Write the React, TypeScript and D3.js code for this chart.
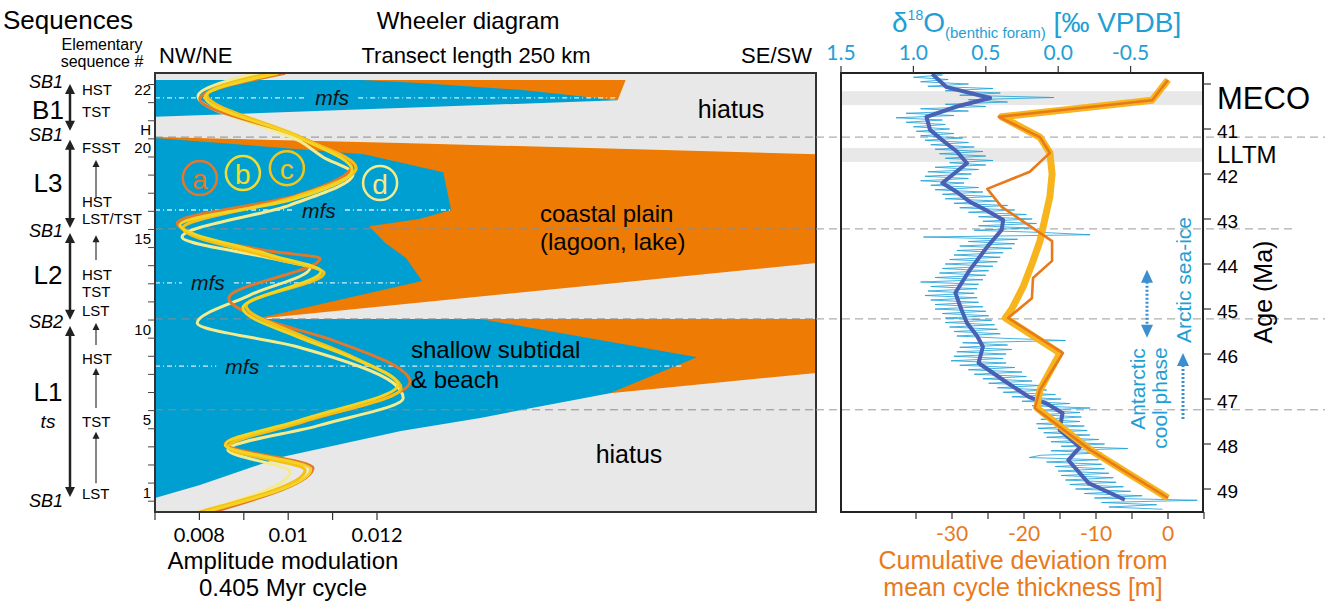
import React from "react";
import * as d3 from "d3";

// ---------- axis ticks ----------
const ageTicks = [40, 41, 42, 43, 44, 45, 46, 47, 48, 49];
const ageTickLabels = [41, 42, 43, 44, 45, 46, 47, 48, 49];
const isoTicks = [1.5, 1.0, 0.5, 0.0, -0.5];
const isoTickLabels = ["1.5", "1.0", "0.5", "0.0", "-0.5"];
const cumTicks = [-35, -30, -25, -20, -15, -10, -5, 0, 5];
const cumTickLabels = [-30, -20, -10, 0];
const ampTicks = [0.007, 0.008, 0.009, 0.01, 0.011, 0.012];
const ampTickLabels = [
  { v: 0.008, t: "0.008" },
  { v: 0.01, t: "0.01" },
  { v: 0.012, t: "0.012" },
];

// elementary sequences (slot index -> label), one slot = 0.405 Myr
const seqTickLabels = [
  { label: "1", slot: 1 },
  { label: "5", slot: 5 },
  { label: "10", slot: 10 },
  { label: "15", slot: 15 },
  { label: "20", slot: 20 },
  { label: "H", slot: 21 },
  { label: "22", slot: 23.2 },
];

// sequence boundaries (Ma) and climate bands
const boundaryAges = [41.18, 43.22, 45.22, 47.24];
const mecoBand = [40.16, 40.47];
const lltmBand = [41.42, 41.73];

// ---------- Wheeler diagram facies (km along transect, age Ma) ----------
const orangeB1 = [[78, 39.91], [178, 39.91], [175, 40.36], [138, 40.13], [100, 39.98]];
const blueB1 = [[0, 39.91], [85, 39.91], [138, 40.09], [175, 40.36], [0, 40.73]];
const orangeL23 = [[0, 41.18], [93, 41.31], [250, 41.56], [250, 43.98], [38, 45.22], [0, 45.22]];
const blueL23 = [
  [0, 41.2], [79, 41.56], [109, 41.96], [112, 42.8], [100, 43.0], [81, 43.16],
  [87, 43.53], [95, 43.87], [101, 44.38], [38, 45.22], [0, 45.22],
];
const orangeL1 = [[123, 45.22], [250, 45.22], [250, 46.42], [172, 46.87]];
const blueL1 = [
  [0, 45.22], [123, 45.22], [205, 46.07], [196, 46.29], [172, 46.87], [123, 47.42],
  [93, 47.71], [48, 48.29], [17, 48.91], [0, 49.2],
];
// maximum flooding surfaces: age, end km, label km
const mfsLines = [
  { age: 40.31, end: 175, label: 67 },
  { age: 42.8, end: 112, label: 62 },
  { age: 44.42, end: 93, label: 20 },
  { age: 46.27, end: 200, label: 33 },
];

// ---------- amplitude modulation curves (amplitude, age) ----------
const curveA = [
  [0.00993, 39.76], [0.00801, 40.33], [0.01027, 41.18], [0.01144, 41.8], [0.01015, 42.49],
  [0.0075, 43.09], [0.0097, 43.73], [0.01072, 43.87], [0.00866, 44.76], [0.00936, 45.2],
  [0.01099, 45.69], [0.01274, 46.62], [0.01027, 47.53], [0.00858, 48.0], [0.01056, 48.53],
  [0.00831, 49.51],
];
const curveB = [
  [0.00977, 39.76], [0.00813, 40.29], [0.01027, 41.2], [0.01144, 41.91], [0.01004, 42.58],
  [0.00756, 43.13], [0.00959, 43.8], [0.01074, 44.16], [0.00898, 44.98], [0.01027, 45.64],
  [0.01128, 46.02], [0.01247, 46.69], [0.01027, 47.47], [0.00858, 48.02], [0.01051, 48.56],
  [0.00813, 49.51],
];
const curveC = [
  [0.00959, 39.76], [0.00817, 40.24], [0.01022, 41.16], [0.01153, 41.87], [0.01009, 42.53],
  [0.00763, 43.2], [0.00955, 43.84], [0.01081, 44.2], [0.00905, 44.93], [0.01031, 45.6],
  [0.01139, 46.04], [0.01254, 46.76], [0.01031, 47.51], [0.00864, 48.07], [0.01038, 48.58],
  [0.00801, 49.51],
];
const curveD = [
  [0.00925, 39.76], [0.00797, 40.27], [0.01033, 41.31], [0.01078, 41.62], [0.01146, 42.0],
  [0.01004, 42.69], [0.00761, 43.4], [0.00959, 43.87], [0.01049, 44.09], [0.00914, 44.69],
  [0.00795, 45.31], [0.0102, 45.84], [0.01236, 46.64], [0.01259, 46.98], [0.01072, 47.58],
  [0.00864, 48.13], [0.01004, 48.62], [0.00801, 49.51],
];
const curveLabels = [
  { l: "a", amp: 0.00801, age: 42.09 },
  { l: "b", amp: 0.00898, age: 41.98 },
  { l: "c", amp: 0.00997, age: 41.87 },
  { l: "d", amp: 0.01207, age: 42.2 },
];

// ---------- benthic d18O (age, permil) ----------
const isoRaw = [
  [39.75, 0.93], [39.8, 0.8], [39.85, 1.0], [39.9, 0.76], [39.95, 0.95], [40.0, 0.62],
  [40.05, 0.9], [40.1, 0.45], [40.15, 0.78], [40.2, 0.4], [40.25, 0.68], [40.3, 0.03],
  [40.35, 0.62], [40.4, 0.35], [40.45, 0.78], [40.5, 0.5], [40.55, 0.95], [40.6, 0.62],
  [40.65, 1.05], [40.7, 0.72], [40.75, 1.12], [40.8, 0.8], [40.85, 1.05], [40.9, 0.78],
  [40.95, 1.0], [41.0, 0.75], [41.05, 0.98], [41.1, 0.72], [41.15, 0.95], [41.2, 0.66],
  [41.25, 0.92], [41.3, 0.62], [41.35, 0.88], [41.4, 0.58], [41.45, 0.85], [41.5, 0.52],
  [41.55, 0.82], [41.6, 0.5], [41.65, 0.78], [41.7, 0.45], [41.75, 0.75], [41.8, 0.5],
  [41.85, 0.85], [41.9, 0.55], [41.95, 0.9], [42.0, 0.6], [42.05, 0.92], [42.1, 0.62],
  [42.15, 0.95], [42.2, 0.65], [42.25, 0.88], [42.3, 0.55], [42.35, 0.85], [42.4, 0.52],
  [42.45, 0.8], [42.5, 0.45], [42.55, 0.78], [42.6, 0.42], [42.65, 0.72], [42.7, 0.35],
  [42.75, 0.68], [42.8, 0.3], [42.85, 0.62], [42.9, 0.22], [42.95, 0.55], [43.0, 0.18],
  [43.05, 0.52], [43.1, 0.15], [43.15, 0.55], [43.2, 0.2], [43.25, 0.58], [43.3, 0.1],
  [43.35, -0.22], [43.4, 0.93], [43.45, 0.28], [43.5, 0.62], [43.55, 0.3], [43.6, 0.68],
  [43.65, 0.32], [43.7, 0.7], [43.75, 0.38], [43.8, 0.72], [43.85, 0.4], [43.9, 0.75],
  [43.95, 0.42], [44.0, 0.78], [44.05, 0.45], [44.1, 0.8], [44.15, 0.48], [44.2, 0.82],
  [44.25, 0.5], [44.3, 0.85], [44.35, 0.52], [44.4, 0.95], [44.45, 0.55], [44.5, 0.88],
  [44.55, 0.56], [44.6, 0.9], [44.65, 0.58], [44.7, 0.92], [44.75, 0.56], [44.8, 0.88],
  [44.85, 0.55], [44.9, 0.85], [44.95, 0.52], [45.0, 0.85], [45.05, 0.5], [45.1, 0.8],
  [45.15, 0.48], [45.2, 0.78], [45.25, 0.46], [45.3, 0.78], [45.35, 0.44], [45.4, 0.75],
  [45.45, 0.42], [45.5, 0.72], [45.55, 0.4], [45.6, 0.7], [45.65, 0.38], [45.7, -0.05],
  [45.75, 0.66], [45.8, 0.35], [45.85, 0.68], [45.9, 0.32], [45.95, 0.7], [46.0, 0.36],
  [46.05, 0.72], [46.1, 0.38], [46.15, 0.74], [46.2, 0.36], [46.25, 0.68], [46.3, 0.3],
  [46.35, 0.62], [46.4, 0.25], [46.45, 0.58], [46.5, 0.22], [46.55, 0.52], [46.6, 0.18],
  [46.65, 0.48], [46.7, 0.12], [46.75, 0.42], [46.8, 0.08], [46.85, 0.38], [46.9, 0.02],
  [46.95, 0.32], [47.0, -0.02], [47.05, 0.25], [47.1, -0.08], [47.15, 0.18], [47.2, -0.22],
  [47.25, 0.15], [47.3, -0.15], [47.35, 0.12], [47.4, -0.16], [47.45, 0.12], [47.5, -0.15],
  [47.55, 0.15], [47.6, -0.18], [47.65, 0.14], [47.7, -0.2], [47.75, 0.1], [47.8, -0.22],
  [47.85, 0.08], [47.9, -0.28], [47.95, 0.05], [48.0, -0.32], [48.05, -0.02], [48.1, -0.48],
  [48.15, 0.05], [48.2, -0.3], [48.25, 0.12], [48.3, 0.2], [48.35, -0.28], [48.4, 0.08],
  [48.45, -0.3], [48.5, 0.02], [48.55, -0.32], [48.6, 0.0], [48.65, -0.35], [48.7, -0.02],
  [48.75, -0.38], [48.8, -0.05], [48.85, -0.4], [48.9, -0.08], [48.95, -0.45], [49.0, -0.12],
  [49.05, -0.5], [49.1, -0.18], [49.15, -0.58], [49.2, -0.25], [49.25, -0.96], [49.3, -0.3],
  [49.35, -0.68], [49.4, -0.35], [49.45, -0.72],
];
const isoSmooth = [
  [39.78, 0.87], [40.07, 0.77], [40.31, 0.47], [40.5, 0.7], [40.73, 0.91], [41.02, 0.885],
  [41.3, 0.78], [41.5, 0.7], [41.76, 0.63], [42.2, 0.8], [42.4, 0.7], [42.62, 0.61],
  [42.8, 0.5], [43.02, 0.38], [43.24, 0.39], [43.62, 0.49], [44.13, 0.61], [44.64, 0.71],
  [45.0, 0.67], [45.31, 0.63], [45.6, 0.56], [45.84, 0.52], [46.2, 0.55], [46.6, 0.37],
  [46.96, 0.2], [47.1, 0.08], [47.31, -0.03], [47.69, -0.01], [48.07, -0.15],
  [48.36, -0.07], [48.87, -0.21], [49.24, -0.46],
];

// ---------- cumulative deviation from mean cycle thickness (age, m) ----------
const cumThick = [
  [39.91, 0], [40.36, -2.2], [40.73, -23.1], [41.18, -17.8], [41.53, -16.4], [42.0, -16.1],
  [42.5, -16.4], [43.0, -17.1], [43.5, -17.8], [44.0, -18.9], [44.5, -20.1], [45.0, -21.7],
  [45.2, -22.6], [45.98, -15.0], [46.8, -17.8], [47.2, -18.2], [48.13, -10.8], [49.2, 0],
];
const cumThin = [
  [39.91, 0], [40.36, -2.2], [40.73, -23.5], [41.18, -17.8], [41.53, -16.4], [41.95, -19.2],
  [42.33, -25.1], [42.73, -23.1], [43.49, -16.1], [43.93, -16.1], [44.31, -18.75],
  [44.76, -18.9], [45.2, -22.2], [45.98, -14.6], [46.8, -17.8], [47.2, -18.5],
  [48.13, -10.8], [49.2, 0],
];

// ---------- sequence stratigraphy column ----------
const seqNames = [
  { t: "B1", age: 40.58 }, { t: "L3", age: 42.2 }, { t: "L2", age: 44.24 }, { t: "L1", age: 46.84 },
];
const sbLabels = [
  { t: "SB1", age: 39.96 }, { t: "SB1", age: 41.13 }, { t: "SB1", age: 43.27 },
  { t: "SB2", age: 45.29 }, { t: "SB1", age: 49.27 },
];
const tracts = [
  { t: "HST", age: 40.13 }, { t: "TST", age: 40.6 }, { t: "FSST", age: 41.42 },
  { t: "HST", age: 42.62 }, { t: "LST/TST", age: 42.98 }, { t: "HST", age: 44.24 },
  { t: "TST", age: 44.62 }, { t: "LST", age: 45.04 }, { t: "HST", age: 46.09 },
  { t: "TST", age: 47.49 }, { t: "LST", age: 49.11 },
];
const seqArrows = [[40.0, 41.04], [41.24, 43.2], [43.31, 45.24], [45.38, 49.18]];
const tractArrows = [[42.53, 41.69], [43.91, 43.36], [45.8, 45.31], [47.2, 46.31], [48.87, 47.73]];

const SANS = "Arial, 'Liberation Sans', Helvetica, sans-serif";
const TICK = "Lato, 'Open Sans', sans-serif";
const BLUE = "#009fd1";
const ORANGE = "#ed7b04";
const GRAY = "#e8e8e8";
const ISO_C = "#1f9fd5";
const CUM_C = "#e97a1a";

const up = (x: number, y: number, w: number, h: number) =>
  `M${x},${y}L${x - w},${y + h}L${x + w},${y + h}Z`;
const down = (x: number, y: number, w: number, h: number) =>
  `M${x},${y}L${x - w},${y - h}L${x + w},${y - h}Z`;

export default function App() {
  const LP = { x0: 155, x1: 816, y0: 73, y1: 512 };
  const RP = { x0: 841, x1: 1203, y0: 73, y1: 512 };

  const ageY = d3.scaleLinear().domain([41, 49]).range([129, 489]);
  const kmX = d3.scaleLinear().domain([0, 250]).range([LP.x0, LP.x1]);
  const ampX = d3.scaleLinear().domain([0.007, 0.012]).range([155, 377]);
  const isoX = d3.scaleLinear().domain([1.5, -1]).range([RP.x0, RP.x1]);
  const cumX = d3.scaleLinear().domain([-30, 0]).range([952, 1168]);
  const slotAge = (k: number) => 49.07 - (k - 1) * 0.4026;

  const poly = (pts: number[][]) =>
    (d3.line<number[]>().x((d) => kmX(d[0])).y((d) => ageY(d[1]))(pts) || "") + "Z";
  const ampLine = d3
    .line<number[]>()
    .x((d) => ampX(d[0]))
    .y((d) => ageY(d[1]))
    .curve(d3.curveMonotoneY);
  const isoLine = d3.line<number[]>().x((d) => isoX(d[1])).y((d) => ageY(d[0]));
  const cumLine = d3.line<number[]>().x((d) => cumX(d[1])).y((d) => ageY(d[0]));

  const seqTickSlots = d3.range(0.5, 24, 1).filter((k) => ageY(slotAge(k)) > LP.y0 + 2);

  return (
    <svg
      width={1325}
      height={602}
      style={{ position: "absolute", left: 0, top: 0, background: "#fff" }}
      fontFamily={SANS}
    >
      <defs>
        <clipPath id="lclip">
          <rect x={LP.x0} y={LP.y0} width={LP.x1 - LP.x0} height={LP.y1 - LP.y0} />
        </clipPath>
        <clipPath id="rclip">
          <rect x={RP.x0} y={RP.y0} width={RP.x1 - RP.x0} height={RP.y1 - RP.y0} />
        </clipPath>
      </defs>

      {/* ---------------- titles ---------------- */}
      <text x={3} y={29} fontSize={26}>Sequences</text>
      <text x={102} y={50} fontSize={16} textAnchor="middle">Elementary</text>
      <text x={102} y={67} fontSize={16} textAnchor="middle">sequence #</text>
      <text x={468} y={29} fontSize={24} textAnchor="middle">Wheeler diagram</text>
      <text x={159} y={63} fontSize={22}>NW/NE</text>
      <text x={476} y={63} fontSize={22} textAnchor="middle">Transect length 250 km</text>
      <text x={812} y={63} fontSize={22} textAnchor="end">SE/SW</text>

      {/* ---------------- Wheeler diagram ---------------- */}
      <g clipPath="url(#lclip)">
        <rect x={LP.x0} y={LP.y0} width={LP.x1 - LP.x0} height={LP.y1 - LP.y0} fill={GRAY} />
        <path d={poly(blueB1)} fill={BLUE} />
        <path d={poly(orangeB1)} fill={ORANGE} />
        <path d={poly(orangeL23)} fill={ORANGE} />
        <path d={poly(blueL23)} fill={BLUE} />
        <path d={poly(orangeL1)} fill={ORANGE} />
        <path d={poly(blueL1)} fill={BLUE} />
        {mfsLines.map((m, i) => (
          <g key={i}>
            <line
              x1={kmX(0)} x2={kmX(m.label) - 26} y1={ageY(m.age)} y2={ageY(m.age)}
              stroke="#d6eef8" strokeWidth={1.3} strokeDasharray="5,3,1,3"
            />
            <line
              x1={kmX(m.label) + 26} x2={kmX(m.end)} y1={ageY(m.age)} y2={ageY(m.age)}
              stroke="#d6eef8" strokeWidth={1.3} strokeDasharray="5,3,1,3"
            />
            <text
              x={kmX(m.label)} y={ageY(m.age)} fontSize={21} fontStyle="italic"
              textAnchor="middle" dominantBaseline="central" fill="#111"
            >
              mfs
            </text>
          </g>
        ))}
        {boundaryAges.map((a) => (
          <line
            key={a} x1={LP.x0} x2={LP.x1} y1={ageY(a)} y2={ageY(a)}
            stroke="#8c8c8c" strokeWidth={1} strokeDasharray="8,5"
          />
        ))}
        <path d={ampLine(curveD) || ""} fill="none" stroke="#f6eb8c" strokeWidth={3} />
        <path d={ampLine(curveA) || ""} fill="none" stroke="#e3782a" strokeWidth={3} />
        <path d={ampLine(curveC) || ""} fill="none" stroke="#f6bf14" strokeWidth={3.2} />
        <path d={ampLine(curveB) || ""} fill="none" stroke="#f4d422" strokeWidth={3} />
      </g>
      {curveLabels.map((c, i) => {
        const col = ["#e3782a", "#f2dc32", "#f4c41a", "#f6e98a"][i];
        return (
          <g key={c.l}>
            <circle cx={ampX(c.amp)} cy={ageY(c.age)} r={17} fill="none" stroke={col} strokeWidth={2.5} />
            <text
              x={ampX(c.amp)} y={ageY(c.age) + 1} fontSize={28} fill={col}
              textAnchor="middle" dominantBaseline="central"
            >
              {c.l}
            </text>
          </g>
        );
      })}
      <text x={731} y={118} fontSize={25} textAnchor="middle">hiatus</text>
      <text x={540} y={222} fontSize={24}>coastal plain</text>
      <text x={540} y={250} fontSize={24}>(lagoon, lake)</text>
      <text x={411} y={358} fontSize={24}>shallow subtidal</text>
      <text x={411} y={388} fontSize={24}>&amp; beach</text>
      <text x={629} y={463} fontSize={25} textAnchor="middle">hiatus</text>
      <rect
        x={LP.x0} y={LP.y0} width={LP.x1 - LP.x0} height={LP.y1 - LP.y0}
        fill="none" stroke="#333" strokeWidth={2}
      />

      {/* sequence number axis */}
      {seqTickSlots.map((k) => (
        <line
          key={k} x1={LP.x0 - 7} x2={LP.x0} y1={ageY(slotAge(k))} y2={ageY(slotAge(k))}
          stroke="#444" strokeWidth={1}
        />
      ))}
      {seqTickLabels.map((s) => (
        <text
          key={s.label} x={LP.x0 - 4} y={ageY(slotAge(s.slot))} fontSize={15}
          textAnchor="end" dominantBaseline="central"
        >
          {s.label}
        </text>
      ))}

      {/* amplitude axis */}
      {ampTicks.map((t) => (
        <line key={t} x1={ampX(t)} x2={ampX(t)} y1={LP.y1} y2={LP.y1 + 8} stroke="#333" strokeWidth={1.2} />
      ))}
      {ampTickLabels.map((t) => (
        <text key={t.t} x={ampX(t.v)} y={542} fontSize={20} fontFamily={TICK} textAnchor="middle">
          {t.t}
        </text>
      ))}
      <text x={283} y={569} fontSize={24} textAnchor="middle">Amplitude modulation</text>
      <text x={283} y={596} fontSize={24} textAnchor="middle">0.405 Myr cycle</text>

      {/* sequence stratigraphy column */}
      {seqArrows.map(([a0, a1], i) => (
        <g key={i}>
          <line x1={70} x2={70} y1={ageY(a0) + 6} y2={ageY(a1) - 6} stroke="#222" strokeWidth={2.5} />
          <path d={up(70, ageY(a0), 5, 10)} fill="#222" />
          <path d={down(70, ageY(a1), 5, 10)} fill="#222" />
        </g>
      ))}
      {tractArrows.map(([a0, a1], i) => (
        <g key={i}>
          <line x1={96} x2={96} y1={ageY(a0)} y2={ageY(a1) + 5} stroke="#222" strokeWidth={1.1} />
          <path d={up(96, ageY(a1), 3.5, 7)} fill="#222" />
        </g>
      ))}
      {sbLabels.map((s, i) => (
        <text
          key={i} x={63} y={ageY(s.age)} fontSize={18} fontStyle="italic"
          textAnchor="end" dominantBaseline="central"
        >
          {s.t}
        </text>
      ))}
      {seqNames.map((s) => (
        <text key={s.t} x={48} y={ageY(s.age)} fontSize={26} textAnchor="middle" dominantBaseline="central">
          {s.t}
        </text>
      ))}
      <text x={48} y={ageY(47.49)} fontSize={19} fontStyle="italic" textAnchor="middle" dominantBaseline="central">
        ts
      </text>
      {tracts.map((s, i) => (
        <text key={i} x={82} y={ageY(s.age)} fontSize={15} dominantBaseline="central">
          {s.t}
        </text>
      ))}

      {/* ---------------- right panel ---------------- */}
      <g clipPath="url(#rclip)">
        <rect x={RP.x0} y={ageY(mecoBand[0])} width={RP.x1 - RP.x0} height={ageY(mecoBand[1]) - ageY(mecoBand[0])} fill={GRAY} />
        <rect x={RP.x0} y={ageY(lltmBand[0])} width={RP.x1 - RP.x0} height={ageY(lltmBand[1]) - ageY(lltmBand[0])} fill={GRAY} />
      </g>
      {boundaryAges.map((a, i) => (
        <line
          key={a} x1={LP.x1} x2={i === 1 ? 1292 : 1325} y1={ageY(a)} y2={ageY(a)}
          stroke="#9a9a9a" strokeWidth={1} strokeDasharray="8,5"
        />
      ))}
      <g clipPath="url(#rclip)">
        <path d={isoLine(isoRaw) || ""} fill="none" stroke="#1aa0d8" strokeWidth={0.9} opacity={0.9} />
        <path d={isoLine(isoSmooth) || ""} fill="none" stroke="#4a60b4" strokeWidth={4} strokeLinejoin="round" />
        <path d={cumLine(cumThick) || ""} fill="none" stroke="#f7b41c" strokeWidth={7} strokeLinejoin="round" />
        <path d={cumLine(cumThin) || ""} fill="none" stroke={CUM_C} strokeWidth={2.6} strokeLinejoin="round" />
      </g>

      {/* climate annotations */}
      <line x1={1147} x2={1147} y1={ageY(44.13) + 12} y2={ageY(45.64) - 12} stroke="#3b8fd0" strokeWidth={3} strokeDasharray="2,2" />
      <path d={up(1147, ageY(44.13), 6, 13)} fill="#3b8fd0" />
      <path d={down(1147, ageY(45.64), 6, 13)} fill="#3b8fd0" />
      <line x1={1183} x2={1183} y1={ageY(45.98) + 12} y2={ageY(47.47)} stroke="#3b8fd0" strokeWidth={3} strokeDasharray="2,2" />
      <path d={up(1183, ageY(45.98), 6, 13)} fill="#3b8fd0" />
      <text transform="translate(1137,389) rotate(-90)" fontSize={21} fill="#1f9fd5" textAnchor="middle" dominantBaseline="central">Antarctic</text>
      <text transform="translate(1159,398) rotate(-90)" fontSize={21} fill="#1f9fd5" textAnchor="middle" dominantBaseline="central">cool phase</text>
      <text transform="translate(1183,280) rotate(-90)" fontSize={21} fill="#1f9fd5" textAnchor="middle" dominantBaseline="central">Arctic sea-ice</text>

      <rect x={RP.x0} y={RP.y0} width={RP.x1 - RP.x0} height={RP.y1 - RP.y0} fill="none" stroke="#222" strokeWidth={2} />

      {/* top d18O axis */}
      {isoTicks.map((t) => (
        <line key={t} x1={isoX(t)} x2={isoX(t)} y1={RP.y0 - 7} y2={RP.y0} stroke="#333" strokeWidth={1.2} />
      ))}
      {isoTicks.map((t, i) => (
        <text key={t} x={isoX(t)} y={60} fontSize={21} fontFamily={TICK} fill={ISO_C} textAnchor="middle">
          {isoTickLabels[i]}
        </text>
      ))}
      <text x={892} y={32} fontSize={28} fill={ISO_C}>
        δ<tspan fontSize={14} dy={-12}>18</tspan>
        <tspan dy={12}>O</tspan>
        <tspan fontSize={15} dy={6}>(benthic foram)</tspan>
        <tspan dy={-6}> [‰ VPDB]</tspan>
      </text>

      {/* bottom cumulative axis */}
      {cumTicks.map((t) => (
        <line key={t} x1={cumX(t)} x2={cumX(t)} y1={RP.y1} y2={RP.y1 + 7} stroke="#333" strokeWidth={1.2} />
      ))}
      {cumTickLabels.map((t) => (
        <text key={t} x={cumX(t)} y={541} fontSize={21} fontFamily={TICK} fill={CUM_C} textAnchor="middle">
          {t}
        </text>
      ))}
      <text x={1023} y={569} fontSize={25} fill={CUM_C} textAnchor="middle">Cumulative deviation from</text>
      <text x={1023} y={596} fontSize={25} fill={CUM_C} textAnchor="middle">mean cycle thickness [m]</text>

      {/* age axis */}
      {ageTicks.map((t) => (
        <line key={t} x1={RP.x1} x2={RP.x1 + 8} y1={ageY(t)} y2={ageY(t)} stroke="#333" strokeWidth={1.2} />
      ))}
      {ageTickLabels.map((t) => (
        <text key={t} x={1217} y={ageY(t) + 2} fontSize={19} dominantBaseline="central">
          {t}
        </text>
      ))}
      <text transform="translate(1263,292) rotate(-90)" fontSize={25} textAnchor="middle" dominantBaseline="central">
        Age (Ma)
      </text>
      <text x={1217} y={ageY(40.3) + 1} fontSize={31} dominantBaseline="central">MECO</text>
      <text x={1217} y={ageY(41.57)} fontSize={24} dominantBaseline="central">LLTM</text>
    </svg>
  );
}
